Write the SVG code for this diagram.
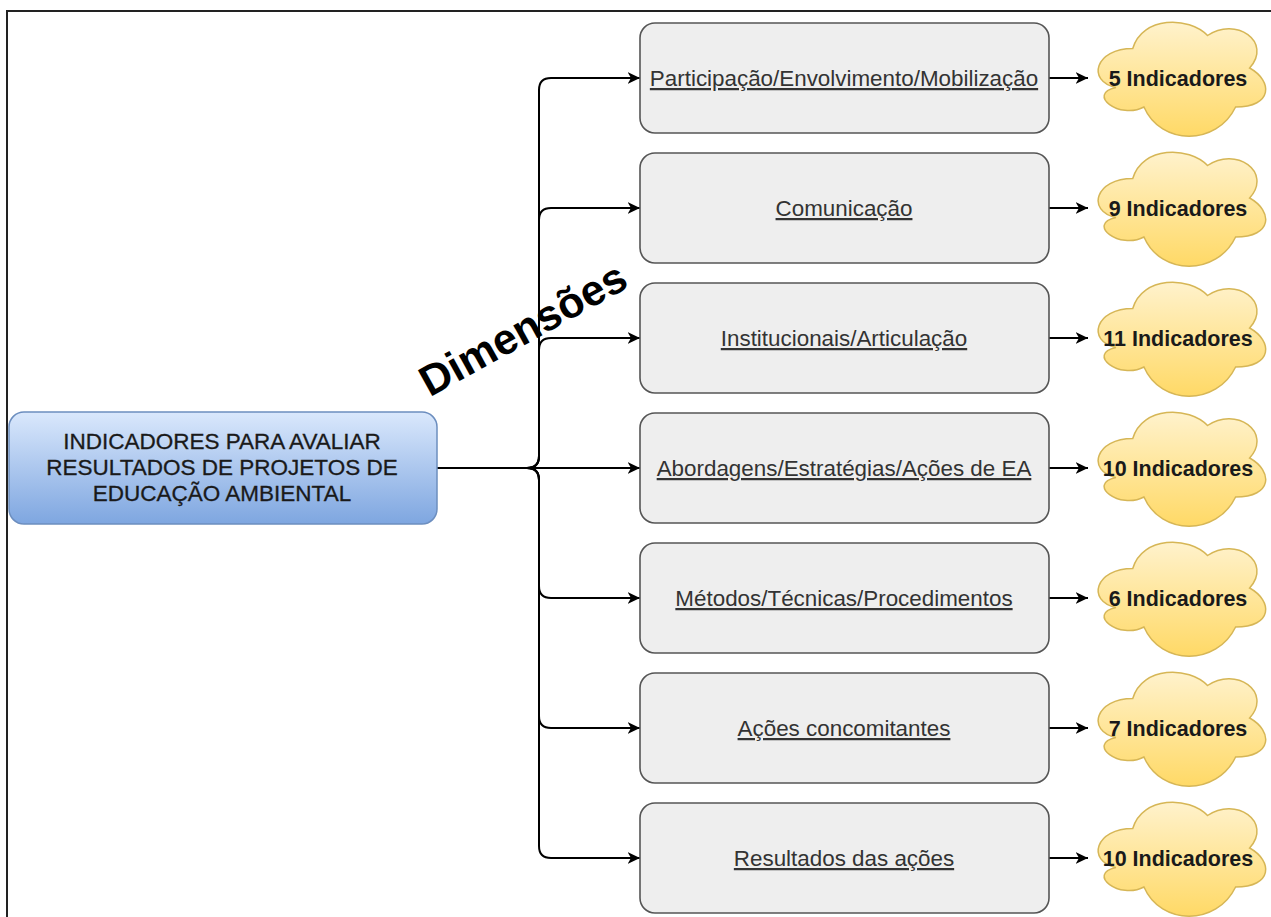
<svg xmlns="http://www.w3.org/2000/svg" width="1271" height="917" viewBox="0 0 1271 917">
  <style>
    .frame { fill: none; stroke: #222; stroke-width: 2; }
    .edge { fill: none; stroke: #000; stroke-width: 2; }
    .box { fill: #eeeeee; stroke: #555; stroke-width: 1.6; }
    .box-label { font-family: "Liberation Sans", Arial, sans-serif; font-size: 22.4px; fill: #333; text-anchor: middle; text-decoration: underline; }
    .cloud { fill: url(#cloudFill); stroke: #d6b656; stroke-width: 1.5; }
    .cloud-label { font-family: "Liberation Sans", Arial, sans-serif; font-size: 21.5px; font-weight: bold; fill: #1a1a1a; text-anchor: middle; }
    .root-label { font-family: "Liberation Sans", Arial, sans-serif; font-size: 22.5px; fill: #1a1a1a; text-anchor: middle; stroke: #1a1a1a; stroke-width: 0.3; }
    .title { font-family: "Liberation Sans", Arial, sans-serif; font-size: 43px; font-weight: bold; fill: #000; text-anchor: middle; }
  </style>
  <defs>
    <linearGradient id="rootFill" x1="0" y1="0" x2="0" y2="1">
      <stop offset="0" stop-color="#dae8fc"/>
      <stop offset="1" stop-color="#7ea6e0"/>
    </linearGradient>
    <linearGradient id="cloudFill" x1="0" y1="0" x2="0" y2="1">
      <stop offset="0" stop-color="#fff2cc"/>
      <stop offset="1" stop-color="#ffd966"/>
    </linearGradient>
    <marker id="arrow" markerUnits="userSpaceOnUse" markerWidth="14" markerHeight="14" viewBox="0 -7 14 14" refX="12.5" refY="0" orient="auto">
      <path d="M0,-6 L12.5,0 L0,6 L3.5,0 Z" fill="#000"/>
    </marker>
    <!-- cloud outline, 187 x 130 -->
    <path id="cloudShape" d="M46.75,32.5 C9.35,32.5 0,65 29.92,71.5 C0,78 33.66,104 57.97,91 C74.8,130 130.9,130 149.6,91 C187,91 187,65 163.63,52 C187,26 149.6,0 121.55,19.5 C102.85,0 56.1,0 46.75,32.5 Z"/>
  </defs>

  <!-- outer frame -->
  <path class="frame" d="M7,917 V11 H1271"/>

  <!-- connectors -->
  <g id="connectors">
    <path class="edge" marker-end="url(#arrow)" d="M437,468 H527 Q539,468 539,456 V90 Q539,78 551,78 H640"/>
    <path class="edge" marker-end="url(#arrow)" d="M437,468 H527 Q539,468 539,456 V220 Q539,208 551,208 H640"/>
    <path class="edge" marker-end="url(#arrow)" d="M437,468 H527 Q539,468 539,456 V350 Q539,338 551,338 H640"/>
    <path class="edge" marker-end="url(#arrow)" d="M437,468 H640"/>
    <path class="edge" marker-end="url(#arrow)" d="M437,468 H527 Q539,468 539,480 V586 Q539,598 551,598 H640"/>
    <path class="edge" marker-end="url(#arrow)" d="M437,468 H527 Q539,468 539,480 V716 Q539,728 551,728 H640"/>
    <path class="edge" marker-end="url(#arrow)" d="M437,468 H527 Q539,468 539,480 V846 Q539,858 551,858 H640"/>

    <path class="edge" marker-end="url(#arrow)" d="M1049,78 H1088"/>
    <path class="edge" marker-end="url(#arrow)" d="M1049,208 H1088"/>
    <path class="edge" marker-end="url(#arrow)" d="M1049,338 H1088"/>
    <path class="edge" marker-end="url(#arrow)" d="M1049,468 H1088"/>
    <path class="edge" marker-end="url(#arrow)" d="M1049,598 H1088"/>
    <path class="edge" marker-end="url(#arrow)" d="M1049,728 H1088"/>
    <path class="edge" marker-end="url(#arrow)" d="M1049,858 H1088"/>
  </g>

  <!-- rotated label over the trunk -->
  <text class="title" x="530" y="342" transform="rotate(-29 530 342)">Dimensões</text>

  <!-- root node -->
  <g id="root">
    <rect x="9" y="412" width="428" height="112" rx="15" fill="url(#rootFill)" stroke="#6c8ebf" stroke-width="1.5"/>
    <text class="root-label" x="222" y="449">INDICADORES PARA AVALIAR</text>
    <text class="root-label" x="222" y="475">RESULTADOS DE PROJETOS DE</text>
    <text class="root-label" x="222" y="501">EDUCAÇÃO AMBIENTAL</text>
  </g>

  <!-- dimension boxes -->
  <g id="dim-participacao">
    <rect class="box" x="640" y="23" width="409" height="110" rx="15"/>
    <text class="box-label" x="844" y="86">Participação/Envolvimento/Mobilização</text>
  </g>
  <g id="dim-comunicacao">
    <rect class="box" x="640" y="153" width="409" height="110" rx="15"/>
    <text class="box-label" x="844" y="216">Comunicação</text>
  </g>
  <g id="dim-institucionais">
    <rect class="box" x="640" y="283" width="409" height="110" rx="15"/>
    <text class="box-label" x="844" y="346">Institucionais/Articulação</text>
  </g>
  <g id="dim-abordagens">
    <rect class="box" x="640" y="413" width="409" height="110" rx="15"/>
    <text class="box-label" x="844" y="476">Abordagens/Estratégias/Ações de EA</text>
  </g>
  <g id="dim-metodos">
    <rect class="box" x="640" y="543" width="409" height="110" rx="15"/>
    <text class="box-label" x="844" y="606">Métodos/Técnicas/Procedimentos</text>
  </g>
  <g id="dim-acoes">
    <rect class="box" x="640" y="673" width="409" height="110" rx="15"/>
    <text class="box-label" x="844" y="736">Ações concomitantes</text>
  </g>
  <g id="dim-resultados">
    <rect class="box" x="640" y="803" width="409" height="110" rx="15"/>
    <text class="box-label" x="844" y="866">Resultados das ações</text>
  </g>

  <!-- indicator clouds -->
  <g id="ind-1">
    <use href="#cloudShape" class="cloud" x="1086" y="16"/>
    <text class="cloud-label" x="1178" y="86">5 Indicadores</text>
  </g>
  <g id="ind-2">
    <use href="#cloudShape" class="cloud" x="1086" y="146"/>
    <text class="cloud-label" x="1178" y="216">9 Indicadores</text>
  </g>
  <g id="ind-3">
    <use href="#cloudShape" class="cloud" x="1086" y="276"/>
    <text class="cloud-label" x="1178" y="346">11 Indicadores</text>
  </g>
  <g id="ind-4">
    <use href="#cloudShape" class="cloud" x="1086" y="406"/>
    <text class="cloud-label" x="1178" y="476">10 Indicadores</text>
  </g>
  <g id="ind-5">
    <use href="#cloudShape" class="cloud" x="1086" y="536"/>
    <text class="cloud-label" x="1178" y="606">6 Indicadores</text>
  </g>
  <g id="ind-6">
    <use href="#cloudShape" class="cloud" x="1086" y="666"/>
    <text class="cloud-label" x="1178" y="736">7 Indicadores</text>
  </g>
  <g id="ind-7">
    <use href="#cloudShape" class="cloud" x="1086" y="796"/>
    <text class="cloud-label" x="1178" y="866">10 Indicadores</text>
  </g>
</svg>
